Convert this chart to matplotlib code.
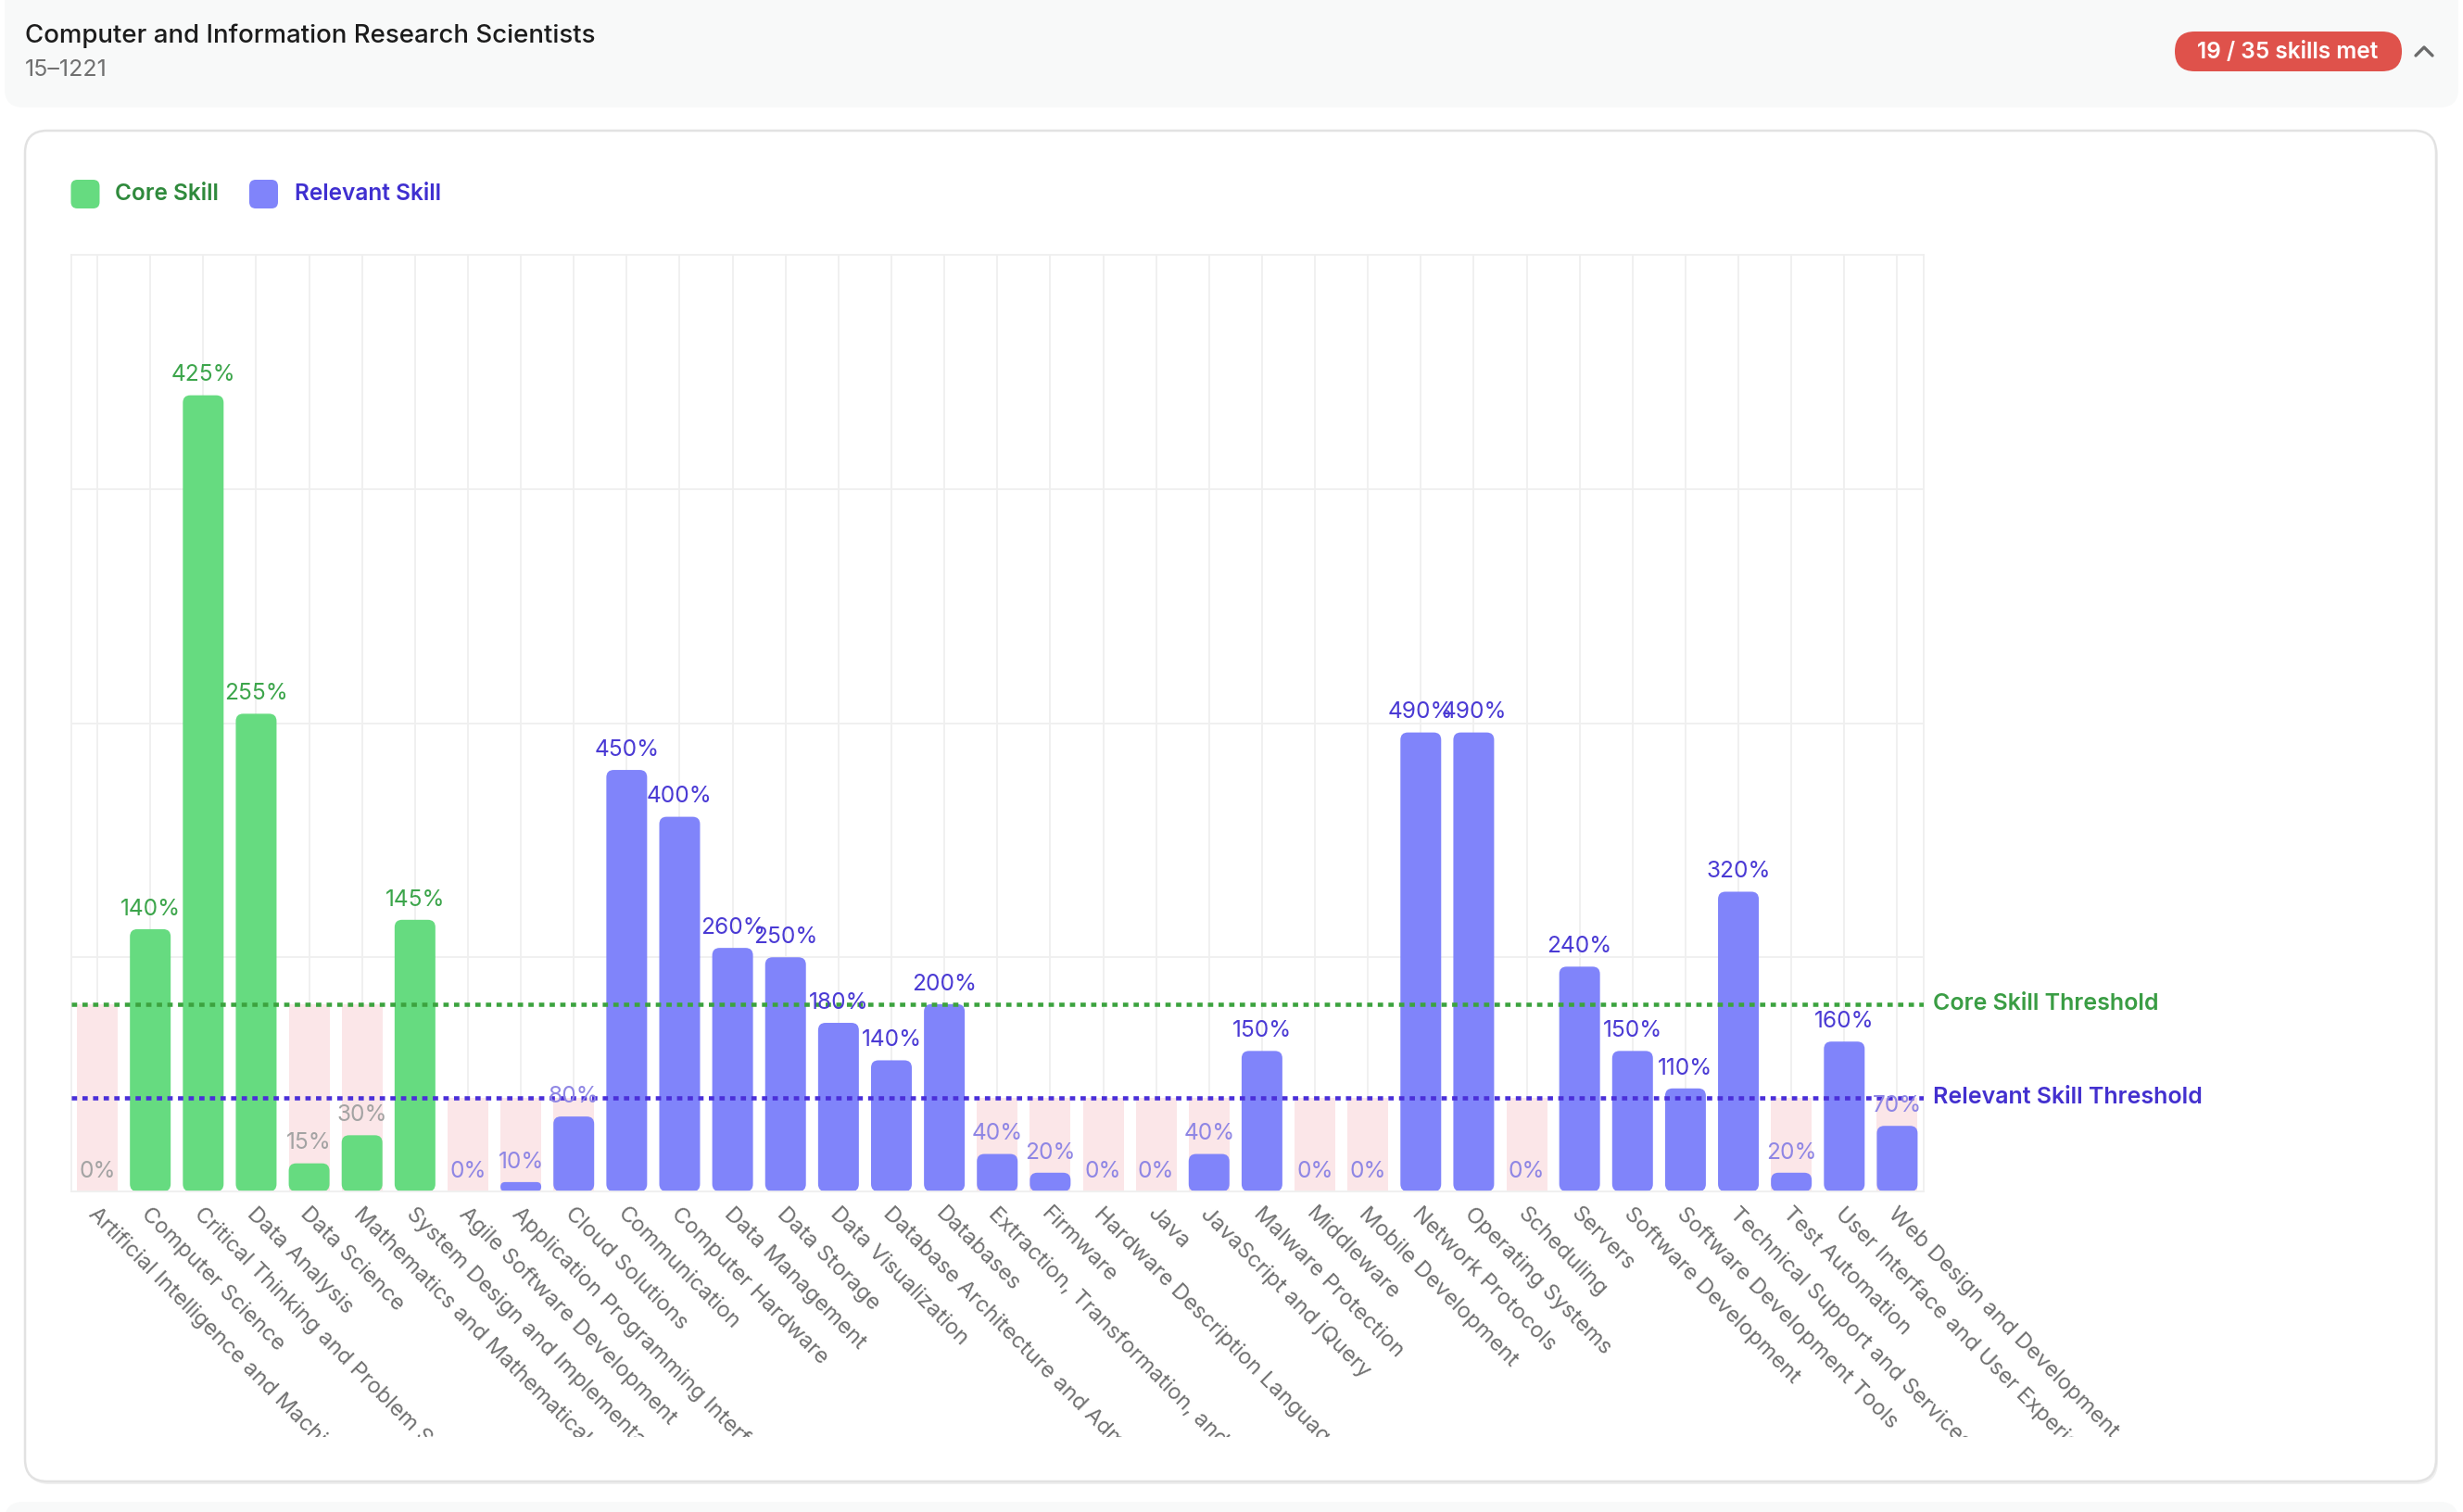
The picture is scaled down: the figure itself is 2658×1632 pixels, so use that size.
import numpy as np
import matplotlib
matplotlib.use("Agg")
import matplotlib.pyplot as plt
from matplotlib.patches import FancyBboxPatch
from matplotlib.lines import Line2D
from matplotlib.transforms import Affine2D, Bbox, ScaledTranslation

plt.rcParams['font.family'] = ['Inter', 'DejaVu Sans']

# =========================
# DATA
# =========================
title = "Computer and Information Research Scientists"
soc_code = "15\u20131221"
badge_text = "19 / 35 skills met"

skills = [
    "Artificial Intelligence and Machine Learning",
    "Computer Science",
    "Critical Thinking and Problem Solving",
    "Data Analysis",
    "Data Science",
    "Mathematics and Mathematical Modeling",
    "System Design and Implementation",
    "Agile Software Development",
    "Application Programming Interfaces (API)",
    "Cloud Solutions",
    "Communication",
    "Computer Hardware",
    "Data Management",
    "Data Storage",
    "Data Visualization",
    "Database Architecture and Administration",
    "Databases",
    "Extraction, Transformation, and Loading (ETL)",
    "Firmware",
    "Hardware Description Language (HDL)",
    "Java",
    "JavaScript and jQuery",
    "Malware Protection",
    "Middleware",
    "Mobile Development",
    "Network Protocols",
    "Operating Systems",
    "Scheduling",
    "Servers",
    "Software Development",
    "Software Development Tools",
    "Technical Support and Services",
    "Test Automation",
    "User Interface and User Experience (UI/UX) Design",
    "Web Design and Development",
]
percent = [0, 140, 425, 255, 15, 30, 145,
           0, 10, 80, 450, 400, 260, 250, 180, 140, 200, 40, 20, 0, 0, 40,
           150, 0, 0, 490, 490, 0, 240, 150, 110, 320, 20, 160, 70]
kind = ["core"] * 7 + ["relevant"] * 28

# core skills are plotted at full value, relevant ones at half
weight = {"core": 1.0, "relevant": 0.5}
threshold = {"core": 100, "relevant": 50}

# =========================
# STYLE
# =========================
W, H = 2658, 1632
green_bar = "#66db80"
blue_bar = "#8084fa"
pink = "#fbe6e8"
grid_c = "#efefef"
green_line = "#3ca33f"
blue_line = "#4a2fd8"
label_met = {"core": "#3ca54b", "relevant": "#4a3ad4"}
label_unmet = {"core": "#a3a3a3", "relevant": "#8f86e4"}

fig = plt.figure(figsize=(W / 100, H / 100), dpi=100)
fig.patch.set_facecolor("white")
# pixel coords, y from top
px = Affine2D().scale(1, -1).translate(0, H).scale(1 / W, 1 / H) + fig.transFigure

# header panel
fig.add_artist(FancyBboxPatch((5, -30), 2648, 146, boxstyle="round,pad=0,rounding_size=20",
                              transform=px, fc="#f8f9f9", ec="none", zorder=0))
# bottom strip (next panel)
fig.add_artist(FancyBboxPatch((5, 1621), 2648, 40, boxstyle="round,pad=0,rounding_size=20",
                              transform=px, fc="#f8f9f9", ec="none", zorder=0))
fig.text(27, 39, title, transform=px, fontsize=19.9, fontweight=500, color="#1c1c1c", va="center")
fig.text(27, 76, soc_code, transform=px, fontsize=18, color="#707070", va="center")

# badge + chevron
fig.add_artist(FancyBboxPatch((2347, 34), 245, 43, boxstyle="round,pad=0,rounding_size=21.5",
                              transform=px, fc="#df524b", ec="none", zorder=1))
fig.text(2469, 56, badge_text, transform=px, fontsize=17.6, fontweight=600, color="white",
         ha="center", va="center", zorder=2)
fig.add_artist(Line2D([2607, 2616, 2625], [60, 51, 60], transform=px, color="#6b6b6b",
                      lw=2.4, solid_capstyle="round", solid_joinstyle="round"))

# card
fig.add_artist(FancyBboxPatch((29, 144), 2602, 1458, boxstyle="round,pad=0,rounding_size=24",
                              transform=px, fc="#f0f0f0", ec="none", zorder=0))
fig.add_artist(FancyBboxPatch((27, 141), 2602, 1458, boxstyle="round,pad=0,rounding_size=24",
                              transform=px, fc="white", ec="#e2e2e2", lw=1.8, zorder=0))

# legend
fig.add_artist(FancyBboxPatch((76.5, 194), 31, 31, boxstyle="round,pad=0,rounding_size=7",
                              transform=px, fc=green_bar, ec="none"))
fig.text(124, 210, "Core Skill", transform=px, fontsize=17.6, fontweight=600,
         color="#2f8a3c", va="center")
fig.add_artist(FancyBboxPatch((269, 194), 31, 31, boxstyle="round,pad=0,rounding_size=7",
                              transform=px, fc=blue_bar, ec="none"))
fig.text(318, 210, "Relevant Skill", transform=px, fontsize=17.6, fontweight=600,
         color="#3f2fd0", va="center")

# =========================
# PLOT
# =========================
ax_l, ax_r, ax_t, ax_b = 76.5, 2076, 275, 1286
ax = fig.add_axes([ax_l / W, 1 - ax_b / H, (ax_r - ax_l) / W, (ax_b - ax_t) / H])
ax.set_facecolor("none")

n = len(skills)
x = np.arange(n)
pct = np.array(percent, dtype=float)
w_arr = np.array([weight[k] for k in kind])
thr = np.array([threshold[k] for k in kind], dtype=float)
val = pct * w_arr
met = pct >= 100

ax.set_xlim(-0.5, n - 0.5)
ax.set_ylim(0, 500)
ax.set_xticks(x)
ax.set_yticks(np.arange(0, 501, 125))
ax.grid(True, color=grid_c, lw=1.3)
ax.set_axisbelow(True)
ax.tick_params(length=0, labelbottom=False, labelleft=False)
for s in ax.spines.values():
    s.set_color(grid_c)
    s.set_linewidth(1.3)

bar_w = 0.77
# pink "missing" background bars up to the threshold
ax.bar(x[~met], thr[~met], width=bar_w, color=pink, zorder=1)

colors = [green_bar if k == "core" else blue_bar for k in kind]
bars = ax.bar(x, val, width=bar_w, color=colors, zorder=2)

ppx = (ax_r - ax_l) / n
ppy = (ax_b - ax_t) / 500
r_px = 8
for rect in list(bars):
    x0, y0, bw, bh = rect.get_x(), rect.get_y(), rect.get_width(), rect.get_height()
    fc = rect.get_facecolor()
    rect.remove()
    if bh <= 0:
        continue
    r = min(r_px, bh * ppy / 2, bw * ppx / 2)
    ax.add_patch(FancyBboxPatch((x0, y0), bw, bh,
                                boxstyle=f"round,pad=0,rounding_size={r / ppx}",
                                mutation_aspect=ppx / ppy, fc=fc, ec="none", zorder=2))

# value labels
for i in range(n):
    c = label_met[kind[i]] if met[i] else label_unmet[kind[i]]
    ax.annotate(f"{percent[i]}%", (x[i], val[i]), xytext=(0, 11), textcoords="offset points",
                ha="center", va="baseline", fontsize=17.6, color=c, zorder=5,
                annotation_clip=False)

# thresholds
ax.axhline(threshold["core"], color=green_line, lw=3.3, ls=(0, (1.25, 1.25)), zorder=3)
ax.axhline(threshold["relevant"], color=blue_line, lw=3.3, ls=(0, (1.25, 1.25)), zorder=3)
ax.annotate("Core Skill Threshold", (1.0, threshold["core"]), xycoords=("axes fraction", "data"),
            xytext=(7, 0), textcoords="offset points", ha="left", va="center",
            fontsize=18, fontweight=600, color="#3a9d44", annotation_clip=False)
ax.annotate("Relevant Skill Threshold", (1.0, threshold["relevant"]),
            xycoords=("axes fraction", "data"), xytext=(7, 0), textcoords="offset points",
            ha="left", va="center", fontsize=18, fontweight=600, color="#4330cf",
            annotation_clip=False)

# rotated category labels, clipped at the bottom of the chart area
clip = Bbox.from_extents(0, H - 1551, W, H)
offs = ScaledTranslation(-6 / 100, -21 / 100, fig.dpi_scale_trans)
for i, name in enumerate(skills):
    t = ax.text(x[i], 0, name, transform=ax.get_xaxis_transform() + offs,
                rotation=-45, rotation_mode="anchor", ha="left", va="center",
                fontsize=17.1, color="#707070")
    t.set_clip_path(None)
    t.set_clip_box(clip)
    t.set_clip_on(True)

fig.savefig("out.png", dpi=100)
plt.close(fig)
